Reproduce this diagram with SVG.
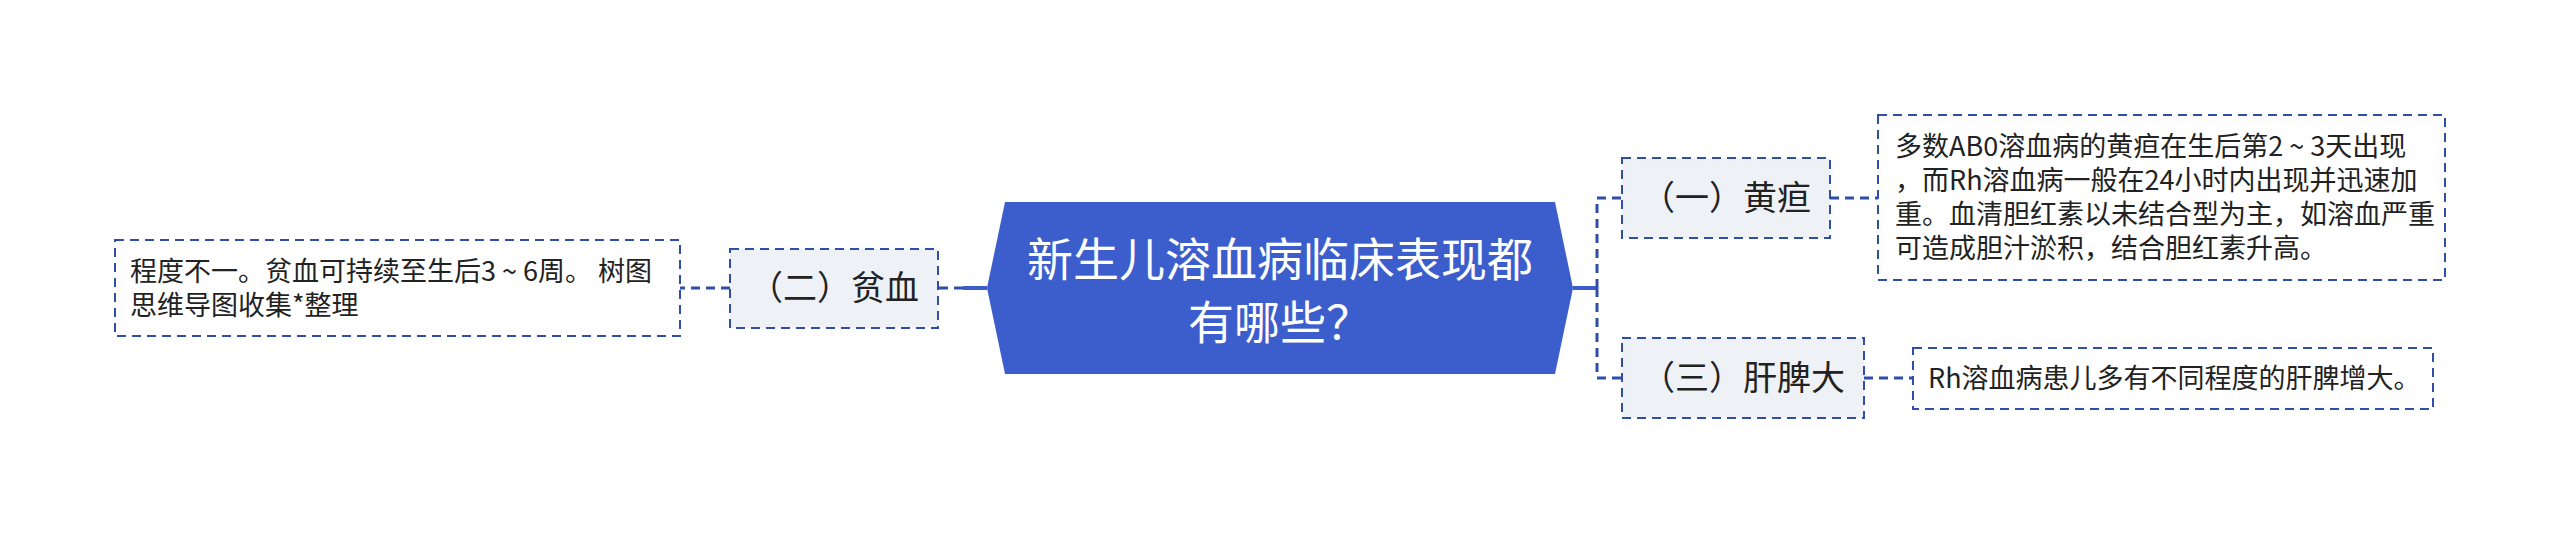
<svg xmlns="http://www.w3.org/2000/svg" width="2560" height="534" viewBox="0 0 2560 534">
<style>
text{font-family:"Noto Sans CJK SC","Noto Sans",sans-serif}
.title{font-size:46px;fill:#ffffff;text-anchor:middle}
.branch{fill:#eef1f6;stroke:#2f4ea8;stroke-width:2;stroke-dasharray:9 6}
.btext{font-size:34px;fill:#222222;text-anchor:middle}
.leaf{fill:#ffffff;stroke:#2f4ea8;stroke-width:2;stroke-dasharray:9 6}
.ltext{font-size:27px;fill:#222222}
.solid{fill:none;stroke:#3b5ecc;stroke-width:4}
.dash{fill:none;stroke:#2f4ea8;stroke-width:3;stroke-dasharray:9 6}
</style>
<rect width="2560" height="534" fill="#ffffff"/>
<g id="connectors">
<path class="solid" d="M987,288 H963"/>
<path class="dash" d="M963,288 H938"/>
<path class="dash" d="M730,288 H680"/>
<path class="solid" d="M1573,288 H1597"/>
<path class="dash" d="M1597,288 V198 H1622"/>
<path class="dash" d="M1597,288 V378 H1622"/>
<path class="dash" d="M1830,198 H1878"/>
<path class="dash" d="M1864,378 H1913"/>
</g>
<g id="center">
<polygon points="1005,202 1555,202 1573,288 1555,374 1005,374 987,288" fill="#3b5ecc"/>
<text class="title" x="1280" y="276">新生儿溶血病临床表现都</text>
<text class="title" x="1280" y="339">有哪些？</text>
</g>
<g id="node-huangdan">
<rect class="branch" x="1622" y="158" width="208" height="80"/>
<text class="btext" x="1726" y="210">（一）黄疸</text>
</g>
<g id="node-pinxue">
<rect class="branch" x="730" y="249" width="208" height="79"/>
<text class="btext" x="834" y="300">（二）贫血</text>
</g>
<g id="node-ganpi">
<rect class="branch" x="1622" y="338" width="242" height="80"/>
<text class="btext" x="1743" y="390">（三）肝脾大</text>
</g>
<g id="leaf-huangdan">
<rect class="leaf" x="1878" y="115" width="567" height="165"/>
<text class="ltext" x="1895" y="156">多数AB0溶血病的黄疸在生后第2 ~ 3天出现</text>
<text class="ltext" x="1895" y="190">，而Rh溶血病一般在24小时内出现并迅速加</text>
<text class="ltext" x="1895" y="224">重。血清胆红素以未结合型为主，如溶血严重</text>
<text class="ltext" x="1895" y="258">可造成胆汁淤积，结合胆红素升高。</text>
</g>
<g id="leaf-pinxue">
<rect class="leaf" x="115" y="240" width="565" height="96"/>
<text class="ltext" x="130" y="281" xml:space="preserve">程度不一。贫血可持续至生后3 ~ 6周。 树图</text>
<text class="ltext" x="130" y="315">思维导图收集*整理</text>
</g>
<g id="leaf-ganpi">
<rect class="leaf" x="1913" y="348" width="520" height="61"/>
<text class="ltext" x="1928" y="388">Rh溶血病患儿多有不同程度的肝脾增大。</text>
</g>
</svg>
